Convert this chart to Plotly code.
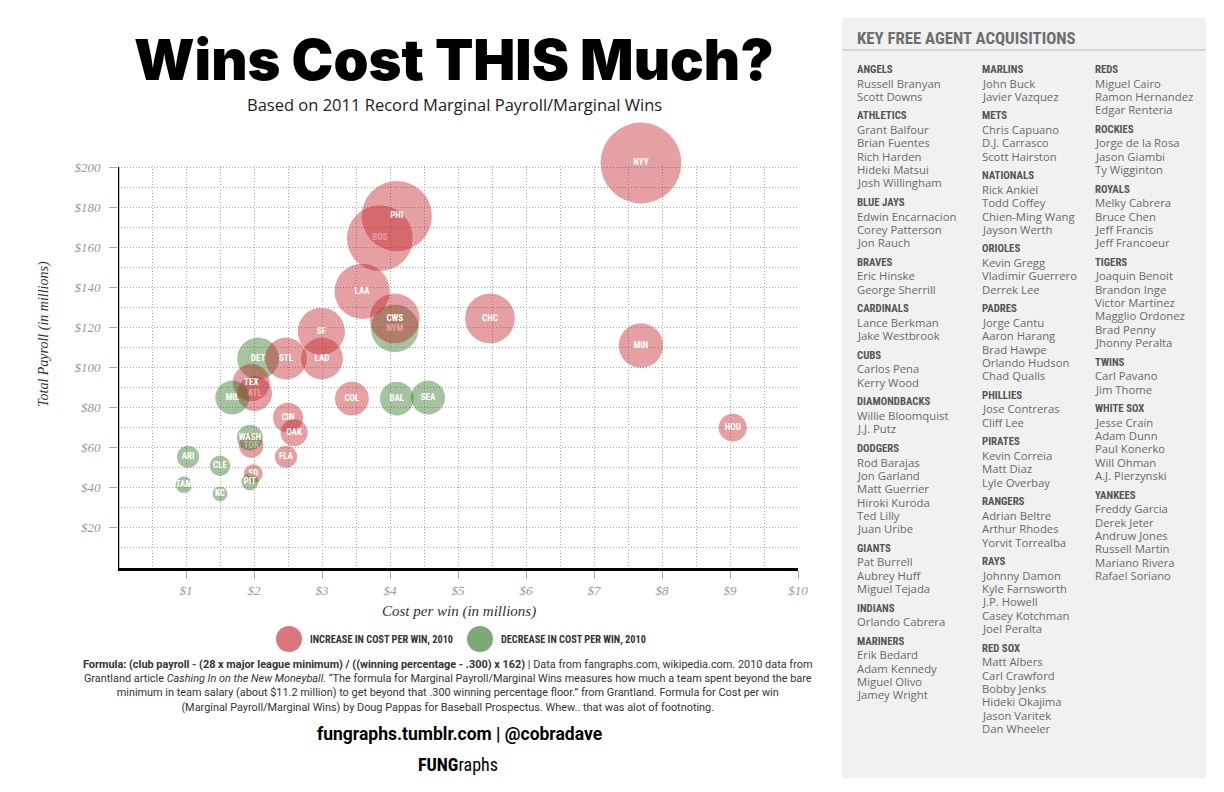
import plotly.graph_objects as go

# ---------------- data ----------------
teams = ["NYY", "BOS", "PHI", "LAA", "NYM", "CWS", "CHC", "MIN", "SF", "DET", "STL", "LAD",
         "ATL", "TEX", "MIL", "COL", "BAL", "SEA", "CIN", "OAK", "TOR", "WASH", "FLA", "ARI",
         "CLE", "SD", "PIT", "TAM", "KC", "HOU"]
cost_per_win = [7.69, 3.85, 4.10, 3.59, 4.07, 4.07, 5.47, 7.69, 2.99, 2.06, 2.47, 3.00,
                2.01, 1.96, 1.68, 3.44, 4.10, 4.56, 2.50, 2.59, 1.96, 1.94, 2.47, 1.03,
                1.50, 1.99, 1.94, 0.97, 1.50, 9.04]
total_payroll = [202, 164.5, 175.5, 138, 119.5, 124.5, 124.5, 111, 118, 104.5, 104.5, 104.5,
                 87, 92.5, 85, 84.5, 84.5, 85, 75, 67.5, 61, 65, 55.5, 55.5,
                 51, 47, 43, 41.5, 37, 70]
change_2010 = ["inc", "inc", "inc", "inc", "dec", "inc", "inc", "inc", "inc", "dec", "inc", "inc",
               "inc", "inc", "dec", "inc", "dec", "dec", "inc", "inc", "inc", "dec", "inc", "dec",
               "dec", "inc", "dec", "dec", "dec", "inc"]

x_tick_vals = [1, 2, 3, 4, 5, 6, 7, 8, 9, 10]
x_tick_text = ["$1", "$2", "$3", "$4", "$5", "$6", "$7", "$8", "$9", "$10"]
x_minor_vals = [0.5, 1.5, 2.5, 3.5, 4.5, 5.5, 6.5, 7.5, 8.5, 9.5]
y_tick_vals = [20, 40, 60, 80, 100, 120, 140, 160, 180, 200]
y_tick_text = ["$20", "$40", "$60", "$80", "$100", "$120", "$140", "$160", "$180", "$200"]
y_minor_vals = [10, 30, 50, 70, 90, 110, 130, 150, 170, 190]

legend_labels = ["INCREASE IN COST PER WIN, 2010", "DECREASE IN COST PER WIN, 2010"]

col1 = [("ANGELS", ["Russell Branyan", "Scott Downs"]),
        ("ATHLETICS", ["Grant Balfour", "Brian Fuentes", "Rich Harden", "Hideki Matsui", "Josh Willingham"]),
        ("BLUE JAYS", ["Edwin Encarnacion", "Corey Patterson", "Jon Rauch"]),
        ("BRAVES", ["Eric Hinske", "George Sherrill"]),
        ("CARDINALS", ["Lance Berkman", "Jake Westbrook"]),
        ("CUBS", ["Carlos Pena", "Kerry Wood"]),
        ("DIAMONDBACKS", ["Willie Bloomquist", "J.J. Putz"]),
        ("DODGERS", ["Rod Barajas", "Jon Garland", "Matt Guerrier", "Hiroki Kuroda", "Ted Lilly", "Juan Uribe"]),
        ("GIANTS", ["Pat Burrell", "Aubrey Huff", "Miguel Tejada"]),
        ("INDIANS", ["Orlando Cabrera"]),
        ("MARINERS", ["Erik Bedard", "Adam Kennedy", "Miguel Olivo", "Jamey Wright"])]
col2 = [("MARLINS", ["John Buck", "Javier Vazquez"]),
        ("METS", ["Chris Capuano", "D.J. Carrasco", "Scott Hairston"]),
        ("NATIONALS", ["Rick Ankiel", "Todd Coffey", "Chien-Ming Wang", "Jayson Werth"]),
        ("ORIOLES", ["Kevin Gregg", "Vladimir Guerrero", "Derrek Lee"]),
        ("PADRES", ["Jorge Cantu", "Aaron Harang", "Brad Hawpe", "Orlando Hudson", "Chad Qualls"]),
        ("PHILLIES", ["Jose Contreras", "Cliff Lee"]),
        ("PIRATES", ["Kevin Correia", "Matt Diaz", "Lyle Overbay"]),
        ("RANGERS", ["Adrian Beltre", "Arthur Rhodes", "Yorvit Torrealba"]),
        ("RAYS", ["Johnny Damon", "Kyle Farnsworth", "J.P. Howell", "Casey Kotchman", "Joel Peralta"]),
        ("RED SOX", ["Matt Albers", "Carl Crawford", "Bobby Jenks", "Hideki Okajima", "Jason Varitek", "Dan Wheeler"])]
col3 = [("REDS", ["Miguel Cairo", "Ramon Hernandez", "Edgar Renteria"]),
        ("ROCKIES", ["Jorge de la Rosa", "Jason Giambi", "Ty Wigginton"]),
        ("ROYALS", ["Melky Cabrera", "Bruce Chen", "Jeff Francis", "Jeff Francoeur"]),
        ("TIGERS", ["Joaquin Benoit", "Brandon Inge", "Victor Martinez", "Magglio Ordonez", "Brad Penny", "Jhonny Peralta"]),
        ("TWINS", ["Carl Pavano", "Jim Thome"]),
        ("WHITE SOX", ["Jesse Crain", "Adam Dunn", "Paul Konerko", "Will Ohman", "A.J. Pierzynski"]),
        ("YANKEES", ["Freddy Garcia", "Derek Jeter", "Andruw Jones", "Russell Martin", "Mariano Rivera", "Rafael Soriano"])]

# ---------------- styling ----------------
RED = "rgba(194,28,36,0.6)"
GREEN = "rgba(40,112,26,0.6)"
COND = "Roboto Condensed, Liberation Sans Narrow, Arial Narrow, Roboto, sans-serif"
SERIF = "Liberation Serif, DejaVu Serif, serif"
SANS = "Open Sans, Lato, sans-serif"

Y_TOP = 205  # axis range top (keeps the NYY bubble centre inside the range)
W_FIG, H_FIG = 1224, 792
L, R, B = 118, 798, 568
PX_PER_UNIT = 401 / 200
T = round(B - Y_TOP * PX_PER_UNIT)
PW, PH = R - L, B - T


def fx(px):
    return (px - L) / PW


def fy(py):
    return (B - py) / PH


fig = go.Figure()
for t, c, p, ch in zip(teams, cost_per_win, total_payroll, change_2010):
    fig.add_trace(go.Scatter(
        x=[c], y=[p], mode="markers+text", text=[t],
        textposition="middle center",
        textfont=dict(family=COND, size=9, color="white", weight="bold"),
        marker=dict(size=[p], sizemode="diameter", sizeref=2.5,
                    color=RED if ch == "inc" else GREEN, line=dict(width=0)),
        cliponaxis=False, hoverinfo="skip", showlegend=False))

grid = dict(showgrid=True, gridcolor="#a8a8a8", griddash="1px,2px", gridwidth=1)
fig.update_layout(
    width=W_FIG, height=H_FIG,
    margin=dict(l=L, r=W_FIG - R, t=T, b=H_FIG - B, pad=0),
    paper_bgcolor="white", plot_bgcolor="white",
    xaxis=dict(range=[0, 10], tickmode="array", tickvals=x_tick_vals, ticktext=x_tick_text,
               ticks="outside", ticklen=8, tickcolor="#aaaaaa", tickwidth=1,
               tickfont=dict(family=SERIF, size=13, color="#9a9a9a", style="italic"),
               minor=dict(tickvals=x_minor_vals, ticks="", **grid),
               showline=True, linecolor="black", linewidth=3, zeroline=False, **grid),
    yaxis=dict(range=[0, Y_TOP], tickmode="array", tickvals=y_tick_vals, ticktext=y_tick_text,
               ticks="outside", ticklen=8, tickcolor="#aaaaaa", tickwidth=1,
               ticklabelstandoff=6,
               tickfont=dict(family=SERIF, size=13, color="#9a9a9a", style="italic"),
               minor=dict(tickvals=y_minor_vals, ticks="", **grid),
               showline=False, zeroline=False, **grid),
)

ann = []
shapes = []

# hide the grid above $200 and draw the left axis line up to $200
shapes.append(dict(type="rect", xref="x", yref="y", x0=-0.1, x1=10.1, y0=200.8, y1=Y_TOP + 1,
                   fillcolor="white", line=dict(width=0), layer="between"))
shapes.append(dict(type="line", xref="x", yref="y", x0=0, x1=0, y0=-1, y1=200,
                   line=dict(color="black", width=2.5), layer="between"))


def text(px, py, s, size, color, family, xanchor="center", yanchor="middle", **kw):
    ann.append(dict(x=fx(px), y=fy(py), xref="paper", yref="paper", text=s, showarrow=False,
                    xanchor=xanchor, yanchor=yanchor,
                    font=dict(size=size, color=color, family=family, **kw)))


# title / subtitle
text(454, 60, "Wins Cost THIS Much?", 56, "black", "Inter, Lato, sans-serif", weight=900)
text(454, 105, "Based on 2011 Record Marginal Payroll/Marginal Wins", 16.5, "#222222", SANS)

# axis titles
ann.append(dict(x=fx(44), y=fy(334), xref="paper", yref="paper", text="Total Payroll (in millions)",
                showarrow=False, textangle=-90, xanchor="center", yanchor="middle",
                font=dict(family=SERIF, size=14, color="#333333", style="italic")))
text(459, 611, "Cost per win (in millions)", 15, "#333333", SERIF, style="italic")

# legend
for cx, col, lab in [(289, RED, legend_labels[0]), (480, GREEN, legend_labels[1])]:
    shapes.append(dict(type="circle", xref="paper", yref="paper",
                       x0=fx(cx - 13), x1=fx(cx + 13), y0=fy(639 + 13), y1=fy(639 - 13),
                       fillcolor=col, line=dict(width=0)))
    text(cx + 19, 639, lab, 10.3, "#333333", COND, xanchor="left", weight="bold")

# footnote
foot = ("<b>Formula: (club payroll - (28 x major league minimum) / ((winning percentage - .300) x 162)</b>"
        " | Data from fangraphs.com, wikipedia.com. 2010 data from<br>"
        "Grantland article <i>Cashing In on the New Moneyball.</i> \u201cThe formula for Marginal Payroll/Marginal Wins"
        " measures how much a team spent beyond the bare<br>"
        "minimum in team salary (about $11.2 million) to get beyond that .300 winning percentage floor.\u201d"
        " from Grantland. Formula for Cost per win<br>"
        "(Marginal Payroll/Marginal Wins) by Doug Pappas for Baseball Prospectus. Whew.. that was alot of footnoting.")
ann.append(dict(x=fx(448), y=fy(686), xref="paper", yref="paper", text=foot, showarrow=False,
                xanchor="center", yanchor="middle", align="center",
                font=dict(family="Roboto, sans-serif", size=10.9, color="#333333")))
text(459, 734, "fungraphs.tumblr.com | @cobradave", 17.5, "black", "Roboto, sans-serif", weight="bold")
text(458, 764, "<b>FUNG</b>raphs", 18, "black", COND)

# right panel
shapes.append(dict(type="rect", xref="paper", yref="paper", x0=fx(842), x1=fx(1206),
                   y0=fy(778), y1=fy(18), fillcolor="#f1f1f1", line=dict(width=0), layer="below"))
shapes.append(dict(type="line", xref="paper", yref="paper", x0=fx(842), x1=fx(1206),
                   y0=fy(50), y1=fy(50), line=dict(color="#d8d8d8", width=2)))
text(855, 38, "KEY FREE AGENT ACQUISITIONS", 16.8, "#6e6e6e", COND, xanchor="left", weight="bold")

for colx, groups in [(855, col1), (980, col2), (1093, col3)]:
    y = 69.3
    first = True
    for head, names in groups:
        if not first:
            y += 19.5
        first = False
        text(colx, y, head, 10.8, "#555555", COND, xanchor="left", weight="bold")
        y += 13.7
        for i, n in enumerate(names):
            if i > 0:
                y += 13.33
            text(colx, y, n, 11.3, "#6a6a6a", SANS, xanchor="left")

fig.update_layout(annotations=ann, shapes=shapes)
fig.write_html("out.html")
